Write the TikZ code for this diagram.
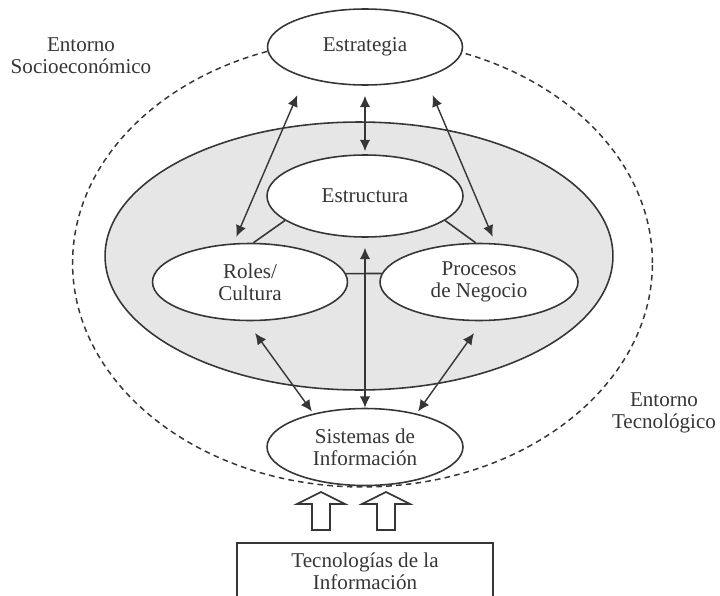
\documentclass[tikz,border=0pt]{standalone}
\usepackage{fontspec}
\setmainfont{Liberation Serif}
\usepackage{xcolor}
\usepackage{tikz}
\usetikzlibrary{positioning, shapes.geometric, arrows.meta, calc}

\definecolor{inkgrey}{HTML}{363636}
\definecolor{panelgrey}{HTML}{E6E6E6}

\begin{document}
\begin{tikzpicture}[
		x=0.02cm, y=-0.02cm,
		every node/.style={font=\fontsize{12}{12.5}\selectfont, text=inkgrey, align=center},
		bubble/.style={ellipse, draw=inkgrey, line width=0.9pt, fill=white, minimum width=3.9cm, minimum height=1.54cm, inner sep=0pt},
		link/.style={{Latex[length=6.5pt,width=6pt]}-{Latex[length=6.5pt,width=6pt]}, line width=0.8pt, draw=inkgrey},
		tie/.style={line width=0.9pt, draw=inkgrey},
		hollow/.style={line width=0.9pt, draw=inkgrey, fill=white}
		]
		\useasboundingbox (0,0) rectangle (720,595);
		
		% Environments
		\draw[inkgrey, line width=0.85pt, dash pattern=on 3.2pt off 2.4pt] (362.5,263) ellipse [x radius=5.8cm, y radius=4.48cm];
		\draw[fill=panelgrey, draw=inkgrey, line width=0.9pt] (359,256) ellipse [x radius=5.08cm, y radius=2.68cm];
		
		% Elements
		\node[bubble, minimum height=1.52cm] (estrategia) at (365,47) {Estrategia};
		\node[bubble, minimum width=3.92cm, minimum height=1.64cm] (estructura) at (365,196) {Estructura};
		\node[bubble] (roles) at (250,282) {Roles/\\Cultura};
		\node[bubble, minimum width=3.96cm] (procesos) at (479,282) {Procesos\\de Negocio};
		\node[bubble, minimum width=3.92cm] (sistemas) at (365,447) {Sistemas de\\Información};
		\node[draw=inkgrey, line width=0.9pt, minimum width=5.12cm, minimum height=1.14cm, inner sep=0pt] (tecnologias) at (365,571.5) {Tecnologías de la\\Información};
		
		% Labels
		\node (socio) at (81,56) {Entorno\\Socioeconómico};
		\node (tecno) at (664,413) {Entorno\\Tecnológico};
		
		% Ties
		\draw[tie] (estructura.197) -- (roles.85);
		\draw[tie] (estructura.343) -- (procesos.95);
		\draw[tie] (roles.5) -- (procesos.175);
		
		% Links
		\draw[link, shorten <=0.2cm, shorten >=0.06cm] (estrategia.south) -- (estructura.north);
		\draw[link, shorten <=0.38cm, shorten >=0.14cm] (estrategia.207) -- (roles.113);
		\draw[link, shorten <=0.38cm, shorten >=0.14cm] (estrategia.333) -- (procesos.67);
		\draw[link, shorten <=0.29cm, shorten >=0.05cm] (roles.265) -- (sistemas.147);
		\draw[link, shorten <=0.29cm, shorten >=0.05cm] (procesos.275) -- (sistemas.33);
		\draw[link, shorten <=0.2cm] (estructura.south) -- (sistemas.north);
		
		% Input arrows
		\foreach \ax in {321,386}
			\draw[hollow] (\ax-9,530) -- (\ax-9,504) -- (\ax-24,504) -- (\ax,492) -- (\ax+24,504) -- (\ax+9,504) -- (\ax+9,530) -- cycle;
		
	\end{tikzpicture}
\end{document}
